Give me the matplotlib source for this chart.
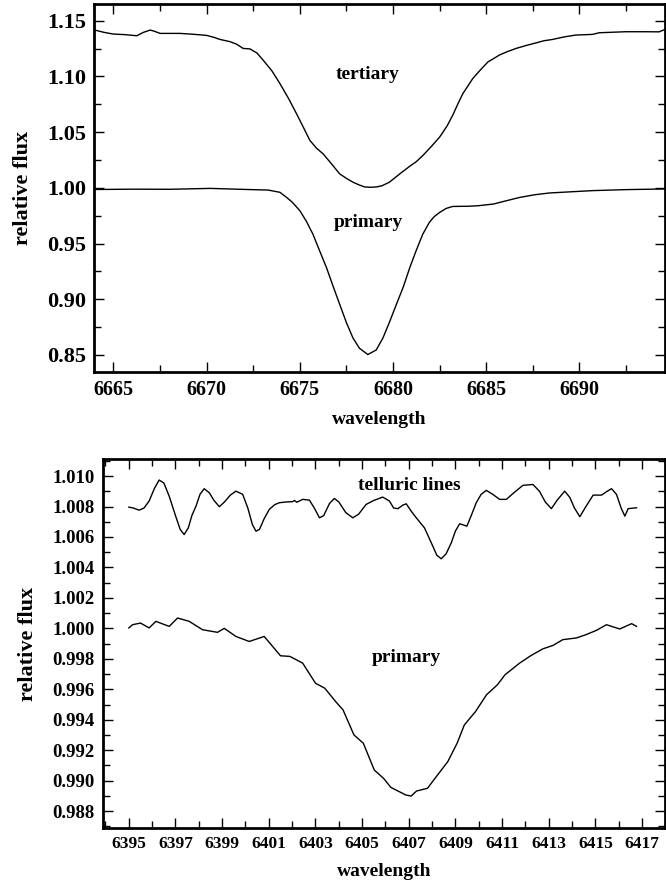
import matplotlib.pyplot as plt
from matplotlib.ticker import MultipleLocator, FormatStrFormatter

plt.rcParams["font.family"] = ["Liberation Serif", "DejaVu Serif"]
plt.rcParams["font.weight"] = "bold"

# top panel: tertiary and primary profiles
wl_ter = [6663.97, 6664.5, 6665.0, 6665.6, 6666.25, 6666.6, 6666.97, 6667.2, 6667.5,
          6668.57, 6669.3, 6670.0, 6670.4, 6670.71, 6671.25, 6671.6, 6671.96, 6672.32,
          6672.7, 6673.03, 6673.5, 6673.93, 6674.4, 6674.82, 6675.2, 6675.54, 6675.9,
          6676.25, 6676.7, 6677.14, 6677.5, 6677.86, 6678.2, 6678.48, 6678.8, 6679.1,
          6679.4, 6679.8, 6680.36, 6680.9, 6681.25, 6681.6, 6682.05, 6682.5, 6682.9,
          6683.2, 6683.5, 6683.75, 6684.28, 6684.7, 6685.1, 6685.4, 6685.7, 6686.1,
          6686.6, 6687.2, 6687.7, 6688.1, 6688.57, 6689.2, 6689.8, 6690.7, 6691.07,
          6692.5, 6693.57, 6694.28, 6694.6]
fx_ter = [1.1417, 1.1395, 1.1380, 1.1375, 1.1365, 1.1395, 1.1416, 1.1405, 1.1386,
          1.1386, 1.1378, 1.1368, 1.1350, 1.1332, 1.1312, 1.1290, 1.1251, 1.1247,
          1.1210, 1.1146, 1.1050, 1.0936, 1.0800, 1.0666, 1.0540, 1.0425, 1.0355,
          1.0305, 1.0215, 1.0125, 1.0085, 1.0050, 1.0025, 1.0008, 1.0005, 1.0008,
          1.0018, 1.0050, 1.0125, 1.0194, 1.0235, 1.0290, 1.0370, 1.0455, 1.0555,
          1.0650, 1.0760, 1.0846, 1.0981, 1.1060, 1.1131, 1.1160, 1.1191, 1.1220,
          1.1251, 1.1280, 1.1302, 1.1320, 1.1332, 1.1355, 1.1371, 1.1377, 1.1392,
          1.1401, 1.1401, 1.1400, 1.1422]

wl_pri1 = [6663.97, 6666.0, 6668.0, 6670.2, 6672.0, 6673.3, 6673.93, 6674.29, 6674.6,
           6675.0, 6675.35, 6675.7, 6676.05, 6676.43, 6676.8, 6677.14, 6677.5, 6677.85,
           6678.2, 6678.65, 6679.1, 6679.46, 6679.8, 6680.18, 6680.55, 6680.9, 6681.25,
           6681.6, 6681.95, 6682.2, 6682.5, 6682.85, 6683.2, 6684.1, 6684.6, 6685.4,
           6686.1, 6686.8, 6687.6, 6688.4, 6690.7, 6692.5, 6694.6]
fx_pri1 = [0.9985, 0.9988, 0.9987, 0.9995, 0.9986, 0.9980, 0.9960, 0.9914, 0.9870,
           0.9795, 0.9700, 0.9585, 0.9440, 0.9284, 0.9110, 0.8954, 0.8790, 0.8653,
           0.8560, 0.8504, 0.8545, 0.8653, 0.8790, 0.8954, 0.9110, 0.9284, 0.9440,
           0.9585, 0.9690, 0.9740, 0.9779, 0.9815, 0.9833, 0.9835, 0.9840, 0.9855,
           0.9885, 0.9914, 0.9938, 0.9954, 0.9975, 0.9984, 0.9990]

# bottom panel: telluric lines and primary profile
wl_tel = [6395.0, 6395.2, 6395.44, 6395.65, 6395.87, 6396.1, 6396.3, 6396.5, 6396.73,
          6397.0, 6397.2, 6397.37, 6397.55, 6397.7, 6397.88, 6398.05, 6398.23, 6398.45,
          6398.65, 6398.88, 6399.1, 6399.35, 6399.59, 6399.88, 6400.1, 6400.3, 6400.45,
          6400.6, 6400.8, 6401.02, 6401.25, 6401.45, 6401.75, 6402.02, 6402.1, 6402.2,
          6402.45, 6402.74, 6402.95, 6403.17, 6403.35, 6403.6, 6403.81, 6404.0, 6404.3,
          6404.6, 6404.85, 6405.17, 6405.5, 6405.88, 6406.17, 6406.35, 6406.53, 6406.75,
          6406.89, 6407.1, 6407.32, 6407.67, 6407.85, 6408.03, 6408.2, 6408.39, 6408.6,
          6408.82, 6409.0, 6409.18, 6409.49, 6409.7, 6409.89, 6410.1, 6410.32, 6410.6,
          6410.89, 6411.18, 6411.5, 6411.89, 6412.32, 6412.6, 6412.85, 6413.11, 6413.35,
          6413.68, 6413.9, 6414.1, 6414.33, 6414.55, 6414.9, 6415.26, 6415.5, 6415.69,
          6415.9, 6416.1, 6416.26, 6416.4, 6416.76]
fx_tel = [1.00796, 1.00790, 1.00776, 1.00790, 1.00836, 1.00920, 1.00974, 1.00955, 1.00868,
          1.00740, 1.00650, 1.00616, 1.00660, 1.00740, 1.00803, 1.00880, 1.00917, 1.00890,
          1.00840, 1.00799, 1.00830, 1.00875, 1.00901, 1.00880, 1.00790, 1.00680, 1.00638,
          1.00650, 1.00720, 1.00781, 1.00812, 1.00825, 1.00830, 1.00832, 1.00840, 1.00828,
          1.00847, 1.00842, 1.00790, 1.00726, 1.00740, 1.00820, 1.00853, 1.00830, 1.00760,
          1.00726, 1.00750, 1.00814, 1.00840, 1.00862, 1.00836, 1.00790, 1.00786, 1.00810,
          1.00818, 1.00770, 1.00726, 1.00660, 1.00600, 1.00539, 1.00480, 1.00457, 1.00490,
          1.00562, 1.00640, 1.00687, 1.00671, 1.00750, 1.00825, 1.00880, 1.00906, 1.00880,
          1.00847, 1.00847, 1.00890, 1.00939, 1.00945, 1.00900, 1.00830, 1.00786, 1.00840,
          1.00901, 1.00860, 1.00790, 1.00733, 1.00790, 1.00875, 1.00875, 1.00900, 1.00917,
          1.00880, 1.00790, 1.00737, 1.00786, 1.00792]

wl_pri2 = [6395.0, 6395.16, 6395.5, 6395.87, 6396.16, 6396.73, 6397.09, 6397.59, 6398.16,
           6398.8, 6399.09, 6399.59, 6400.16, 6400.8, 6401.16, 6401.5, 6401.9, 6402.45,
           6403.0, 6403.4, 6403.86, 6404.18, 6404.65, 6405.05, 6405.52, 6405.92, 6406.23,
           6406.87, 6407.1, 6407.33, 6407.8, 6408.12, 6408.67, 6409.07, 6409.38, 6409.86,
           6410.33, 6410.8, 6411.12, 6411.75, 6412.22, 6412.75, 6413.18, 6413.6, 6414.18,
           6414.6, 6415.04, 6415.47, 6416.04, 6416.55, 6416.76]
fx_pri2 = [1.00003, 1.00024, 1.00035, 1.00003, 1.00046, 1.00013, 1.00068, 1.00046, 0.99991,
           0.99974, 1.00000, 0.99947, 0.99914, 0.99947, 0.99882, 0.99820, 0.99816, 0.99772,
           0.99640, 0.99607, 0.99520, 0.99465, 0.99300, 0.99246, 0.99070, 0.99015, 0.98956,
           0.98906, 0.98899, 0.98932, 0.98950, 0.99015, 0.99125, 0.99246, 0.99366, 0.99454,
           0.99564, 0.99630, 0.99695, 0.99772, 0.99820, 0.99866, 0.99888, 0.99926, 0.99937,
           0.99959, 0.99987, 1.00024, 0.99996, 1.00031, 1.00013]


def style_axes(ax):
    for s in ax.spines.values():
        s.set_linewidth(2)
    ax.tick_params(which="both", direction="in", top=True, right=True, width=1, pad=6)
    ax.tick_params(which="major", length=7)
    ax.tick_params(which="minor", length=5)


fig = plt.figure(figsize=(6.66, 8.85), dpi=100)

# top panel
ax1 = fig.add_axes([0.1416, 0.58, 0.857, 0.4155])
ax1.plot(wl_ter, fx_ter, color="black", lw=1)
ax1.plot(wl_pri1, fx_pri1, color="black", lw=1)
ax1.set_xlim(6663.97, 6694.6)
ax1.set_ylim(0.835, 1.165)
ax1.xaxis.set_major_locator(MultipleLocator(5))
ax1.xaxis.set_minor_locator(MultipleLocator(2.5))
ax1.yaxis.set_major_locator(MultipleLocator(0.05))
ax1.yaxis.set_minor_locator(MultipleLocator(0.025))
ax1.yaxis.set_major_formatter(FormatStrFormatter("%.2f"))
style_axes(ax1)
ax1.tick_params(axis="x", labelsize=14.5)
ax1.tick_params(axis="y", labelsize=16)
ax1.set_xlabel("wavelength", fontsize=14, fontweight="bold", labelpad=8)
ax1.set_ylabel("relative flux", fontsize=16, fontweight="bold", labelpad=10)
ax1.text(6678.65, 1.1017, "tertiary", fontsize=14, ha="center", va="center")
ax1.text(6678.65, 0.9685, "primary", fontsize=14, ha="center", va="center")

# bottom panel
ax2 = fig.add_axes([0.1542, 0.0647, 0.8443, 0.4163])
ax2.plot(wl_tel, fx_tel, color="black", lw=1)
ax2.plot(wl_pri2, fx_pri2, color="black", lw=1)
ax2.set_xlim(6393.88, 6417.98)
ax2.set_ylim(0.98691, 1.0111)
ax2.set_xticks(range(6395, 6418, 2))
ax2.xaxis.set_minor_locator(MultipleLocator(1))
ax2.yaxis.set_major_locator(MultipleLocator(0.002))
ax2.yaxis.set_minor_locator(MultipleLocator(0.001))
ax2.yaxis.set_major_formatter(FormatStrFormatter("%.3f"))
style_axes(ax2)
ax2.tick_params(axis="x", labelsize=12.5)
ax2.tick_params(axis="y", labelsize=13.5)
ax2.set_xlabel("wavelength", fontsize=14, fontweight="bold", labelpad=8)
ax2.set_ylabel("relative flux", fontsize=16, fontweight="bold", labelpad=10)
ax2.text(6407.0, 1.0094, "telluric lines", fontsize=14, ha="center", va="center")
ax2.text(6406.9, 0.9981, "primary", fontsize=14, ha="center", va="center")

fig.savefig("out.png", dpi=100)
